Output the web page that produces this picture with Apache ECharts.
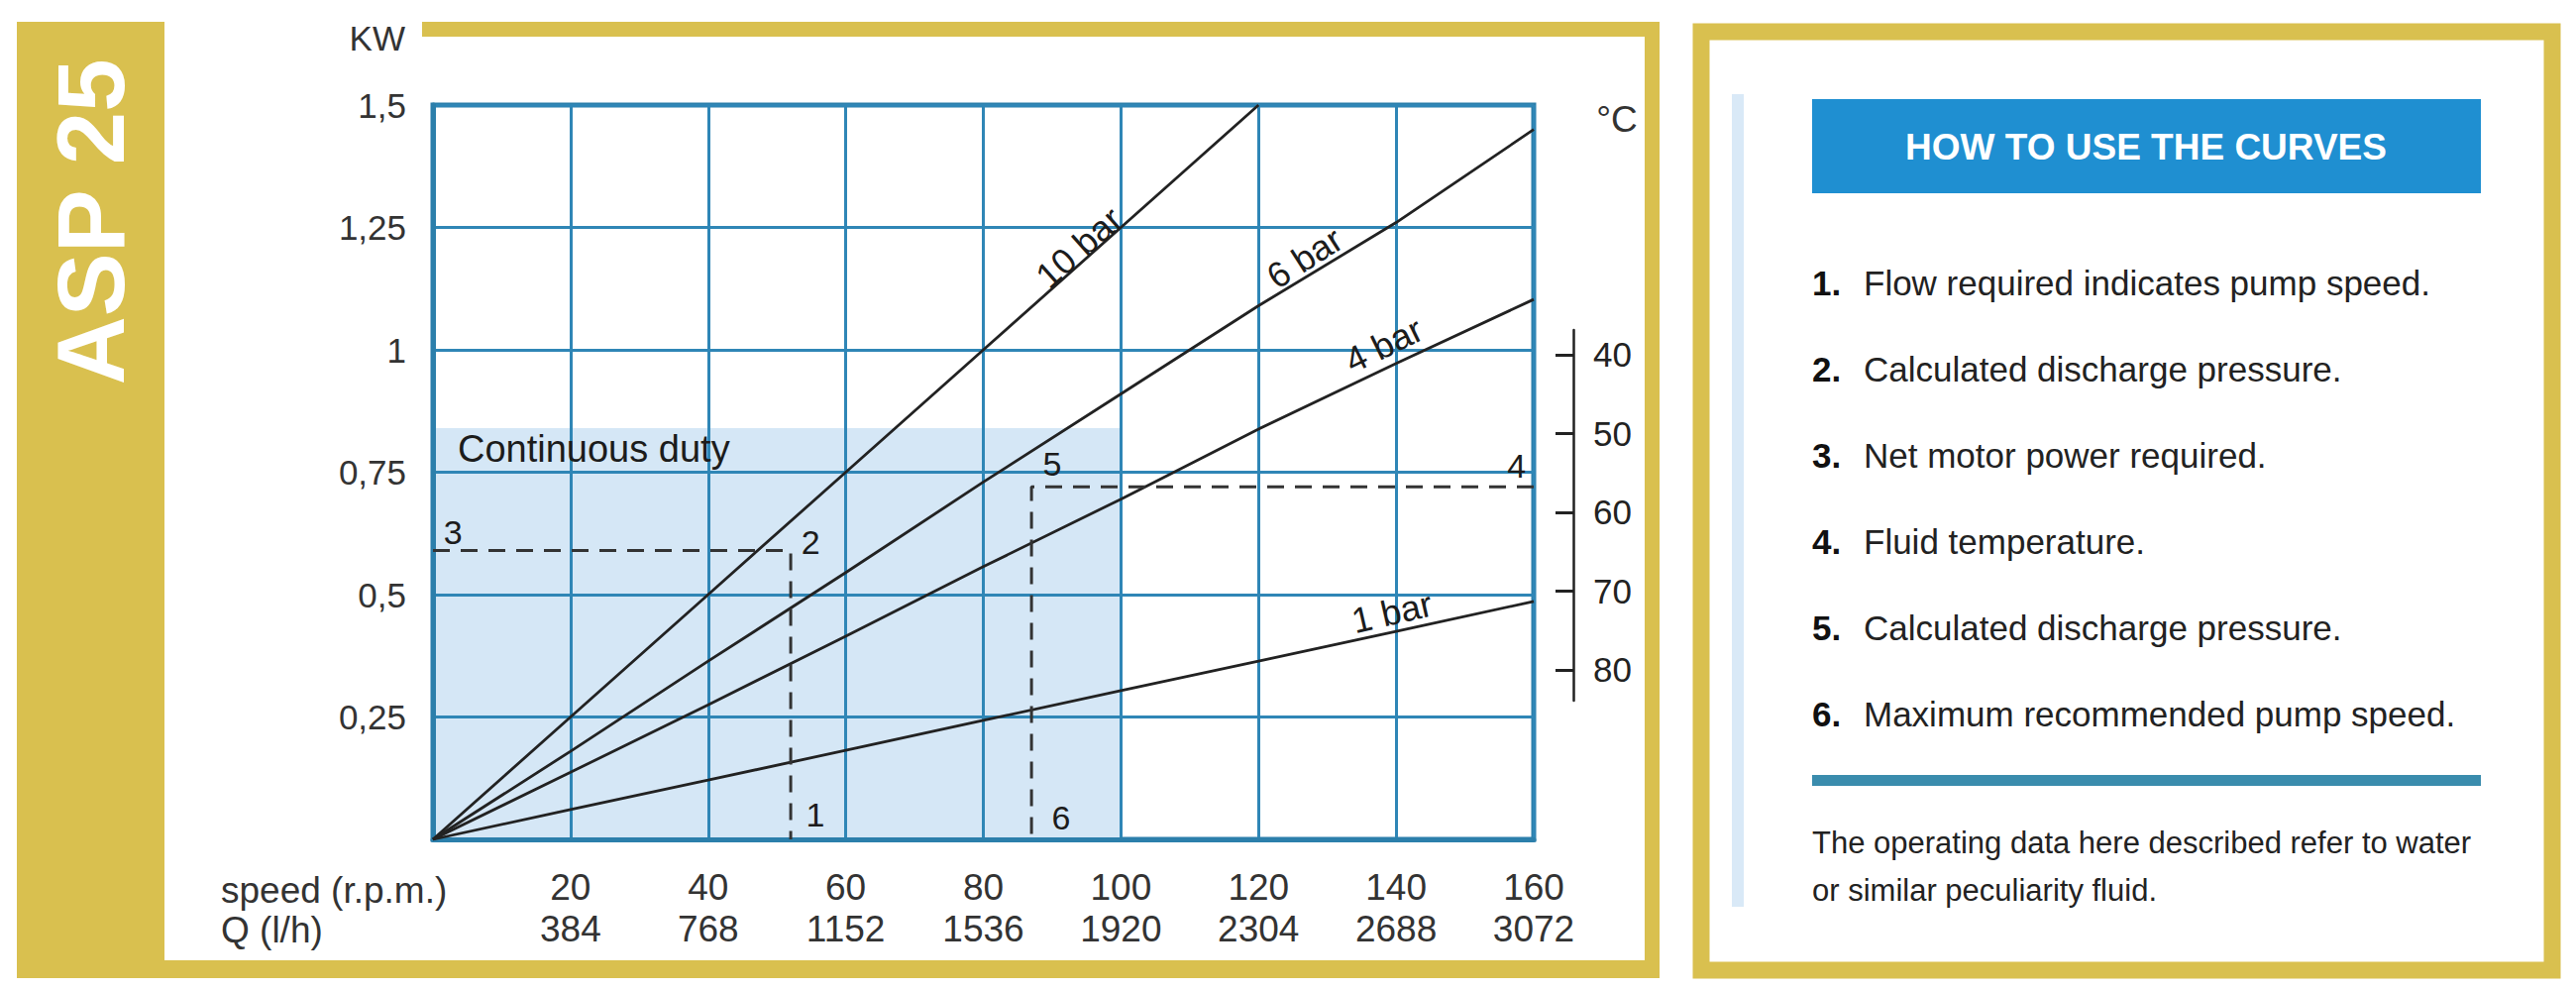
<!DOCTYPE html>
<html>
<head>
<meta charset="utf-8">
<script src="https://cdn.jsdelivr.net/npm/echarts@6/dist/echarts.min.js"></script>
<style>
html,body{margin:0;padding:0;background:#ffffff;}
#c{width:2600px;height:1000px;}
</style>
</head>
<body>
<div id="c"></div>
<script>
// ---------- data ----------
const speedTicks = [0, 20, 40, 60, 80, 100, 120, 140, 160];
const flowTicks  = [0, 384, 768, 1152, 1536, 1920, 2304, 2688, 3072];
const tempTicks  = [40, 50, 60, 70, 80];
const bar10Speed = [0, 20, 40, 60, 80, 100, 120];
const bar10Kw    = [0, 0.25, 0.5, 0.75, 1.0, 1.25, 1.5];
const barSpeed   = [0, 20, 40, 60, 80, 100, 120, 140, 160];
const bar6Kw     = [0, 0.18, 0.364, 0.545, 0.73, 0.91, 1.09, 1.26, 1.45];
const bar4Kw     = [0, 0.137, 0.275, 0.415, 0.557, 0.695, 0.838, 0.972, 1.103];
const bar1Kw     = [0, 0.061, 0.121, 0.182, 0.243, 0.304, 0.364, 0.425, 0.486];
const dutySpeed  = 100;   // continuous duty limit speed
const dutyKw     = 0.84;  // continuous duty limit power
const example1Speed = 52, example1Kw = 0.59;   // steps 1-2-3
const example2Speed = 87, example2Kw = 0.72;   // steps 6-5-4
const steps = [
  "Flow required indicates pump speed.",
  "Calculated discharge pressure.",
  "Net motor power required.",
  "Fluid temperature.",
  "Calculated discharge pressure.",
  "Maximum recommended pump speed."
];

// ---------- helpers ----------
const FONT = "'Liberation Sans', Arial, Helvetica, sans-serif";
const GOLD = '#d9c04f';
const GRIDC = '#2f86b6';
const INK = '#222222';
const zip = (xs, ys) => xs.map((x, i) => [x, ys[i]]);
const kwFmt = v => (v === 0 ? '' : String(v).replace('.', ','));

const chart = echarts.init(document.getElementById('c'), null, {renderer: 'svg', width: 2600, height: 1000});

function curve(name, xs, ys) {
  return {
    name, type: 'line', data: zip(xs, ys), symbol: 'none', z: 5,
    lineStyle: {color: INK, width: 2.8}, silent: true
  };
}
function dashed(name, sp, kw, fromRight) {
  const data = fromRight ? [[160, kw], [sp, kw], [sp, 0]] : [[0, kw], [sp, kw], [sp, 0]];
  return {
    name, type: 'line', data, symbol: 'none', z: 6, silent: true,
    lineStyle: {color: '#333', width: 3, type: [17, 11]}
  };
}
function tag(name, x, y, rotate, size, align) {
  return {
    name: name, value: [x, y],
    label: {rotate: rotate || 0, fontSize: size || 36, align: align || 'center'}
  };
}

const annotations = [
  tag('10 bar', 93.9, 1.209, 41.6),
  tag('6 bar', 126.7, 1.188, 32.8),
  tag('4 bar', 138.2, 1.010, 26.1),
  tag('1 bar', 139.4, 0.464, 13),
  tag('3', 2.9, 0.628, 0, 34),
  tag('2', 54.9, 0.607, 0, 34),
  tag('1', 55.6, 0.051, 0, 34),
  tag('5', 90.0, 0.767, 0, 34),
  tag('4', 157.5, 0.763, 0, 34),
  tag('6', 91.3, 0.045, 0, 34),
  tag('Continuous duty', 3.6, 0.798, 0, 38, 'left')
];

// ---------- graphic (panels) ----------
const graphic = [
  // left panel frame
  {type: 'rect', shape: {x: 17, y: 22, width: 149, height: 965}, style: {fill: GOLD}, z: -10},
  {type: 'rect', shape: {x: 426, y: 22, width: 1249, height: 15}, style: {fill: GOLD}, z: -10},
  {type: 'rect', shape: {x: 1660, y: 22, width: 15, height: 965}, style: {fill: GOLD}, z: -10},
  {type: 'rect', shape: {x: 17, y: 969, width: 1658, height: 18}, style: {fill: GOLD}, z: -10},
  {type: 'text', x: 91, y: 224, rotation: Math.PI / 2,
   style: {text: 'ASP 25', fill: '#ffffff', font: "bold 96px " + FONT, textAlign: 'center', textVerticalAlign: 'middle'}},
  {type: 'text', x: 409, y: 38,
   style: {text: 'KW', fill: '#333', font: "35px " + FONT, textAlign: 'right', textVerticalAlign: 'middle'}},
  {type: 'text', x: 1632, y: 120,
   style: {text: '°C', fill: '#333', font: "37px " + FONT, textAlign: 'center', textVerticalAlign: 'middle'}},
  {type: 'text', x: 223, y: 898,
   style: {text: 'speed (r.p.m.)', fill: '#333', font: "37px " + FONT, textAlign: 'left', textVerticalAlign: 'middle'}},
  {type: 'text', x: 223, y: 938,
   style: {text: 'Q (l/h)', fill: '#333', font: "37px " + FONT, textAlign: 'left', textVerticalAlign: 'middle'}},
  // right panel
  {type: 'rect', shape: {x: 1717, y: 32, width: 859, height: 947}, style: {fill: '#ffffff', stroke: GOLD, lineWidth: 17}, z: -10},
  {type: 'rect', shape: {x: 1748, y: 95, width: 12, height: 820}, style: {fill: '#d9e9f7'}},
  {type: 'rect', shape: {x: 1829, y: 100, width: 675, height: 95}, style: {fill: '#1f8fd1'}},
  {type: 'text', x: 2166, y: 148,
   style: {text: 'HOW TO USE THE CURVES', fill: '#ffffff', font: "bold 37px " + FONT, textAlign: 'center', textVerticalAlign: 'middle'}},
  {type: 'rect', shape: {x: 1829, y: 782, width: 675, height: 11}, style: {fill: '#3a8cad'}},
  {type: 'text', x: 1829, y: 850,
   style: {text: 'The operating data here described refer to water', fill: '#222', font: "31px " + FONT, textAlign: 'left', textVerticalAlign: 'middle'}},
  {type: 'text', x: 1829, y: 898,
   style: {text: 'or similar peculiarity fluid.', fill: '#222', font: "31px " + FONT, textAlign: 'left', textVerticalAlign: 'middle'}}
];
steps.forEach((s, i) => {
  const y = 285 + i * 87;
  graphic.push({type: 'text', x: 1829, y,
    style: {text: (i + 1) + '.', fill: '#111', font: "bold 35px " + FONT, textAlign: 'left', textVerticalAlign: 'middle'}});
  graphic.push({type: 'text', x: 1881, y,
    style: {text: s, fill: '#222', font: "35px " + FONT, textAlign: 'left', textVerticalAlign: 'middle'}});
});

// ---------- option ----------
const option = {
  backgroundColor: '#ffffff',
  animation: false,
  grid: [
    {left: 437, top: 106, width: 1111, height: 741, show: true, borderColor: '#2c7fab', borderWidth: 5, backgroundColor: 'transparent', containLabel: false},
    {left: 1400, top: 333, width: 188, height: 374, show: false, containLabel: false}
  ],
  xAxis: [
    {type: 'value', gridIndex: 0, min: 0, max: 160, interval: 20, z: 3,
     axisLine: {show: true, onZero: false, lineStyle: {color: '#2c7fab', width: 5}},
     axisTick: {show: false},
     splitLine: {show: true, lineStyle: {color: GRIDC, width: 3}},
     axisLabel: {
       margin: 27, color: '#333', fontSize: 37, lineHeight: 42, fontFamily: FONT,
       formatter: v => {
         const i = speedTicks.indexOf(v);
         return (v === 0 || i < 0) ? '' : speedTicks[i] + '\n' + flowTicks[i];
       }
     }},
    {type: 'value', gridIndex: 1, min: 0, max: 1, show: false}
  ],
  yAxis: [
    {type: 'value', gridIndex: 0, min: 0, max: 1.5, interval: 0.25, z: 3,
     axisLine: {show: true, onZero: false, lineStyle: {color: '#2c7fab', width: 5}},
     axisTick: {show: false},
     splitLine: {show: true, lineStyle: {color: GRIDC, width: 3}},
     axisLabel: {margin: 27, color: '#333', fontSize: 35, fontFamily: FONT, formatter: kwFmt}},
    {type: 'value', gridIndex: 1, position: 'right', inverse: true, min: 36.86, max: 83.9,
     axisLine: {show: true, onZero: false, lineStyle: {color: INK, width: 2.5}},
     axisTick: {show: true, inside: true, length: 18, customValues: tempTicks, lineStyle: {color: INK, width: 3}},
     splitLine: {show: false},
     axisLabel: {show: true, customValues: tempTicks, margin: 20, color: '#222', fontSize: 35, fontFamily: FONT}}
  ],
  graphic: graphic,
  series: [
    {name: 'duty', type: 'line', data: [], z: 1, silent: true,
     markArea: {silent: true, itemStyle: {color: '#d5e7f6'},
       data: [[{coord: [0, 0]}, {coord: [dutySpeed, dutyKw]}]]}},
    curve('10 bar', bar10Speed, bar10Kw),
    curve('6 bar', barSpeed, bar6Kw),
    curve('4 bar', barSpeed, bar4Kw),
    curve('1 bar', barSpeed, bar1Kw),
    dashed('example 1', example1Speed, example1Kw, false),
    dashed('example 2', example2Speed, example2Kw, true),
    {name: 'labels', type: 'scatter', data: annotations, symbolSize: 1, z: 7, silent: true,
     itemStyle: {color: 'transparent'},
     label: {show: true, position: 'inside', formatter: p => p.name, color: '#1c1c1c', opacity: 1,
             textBorderWidth: 0, fontFamily: FONT, verticalAlign: 'middle'}}
  ]
};
chart.setOption(option);
</script>
</body>
</html>
